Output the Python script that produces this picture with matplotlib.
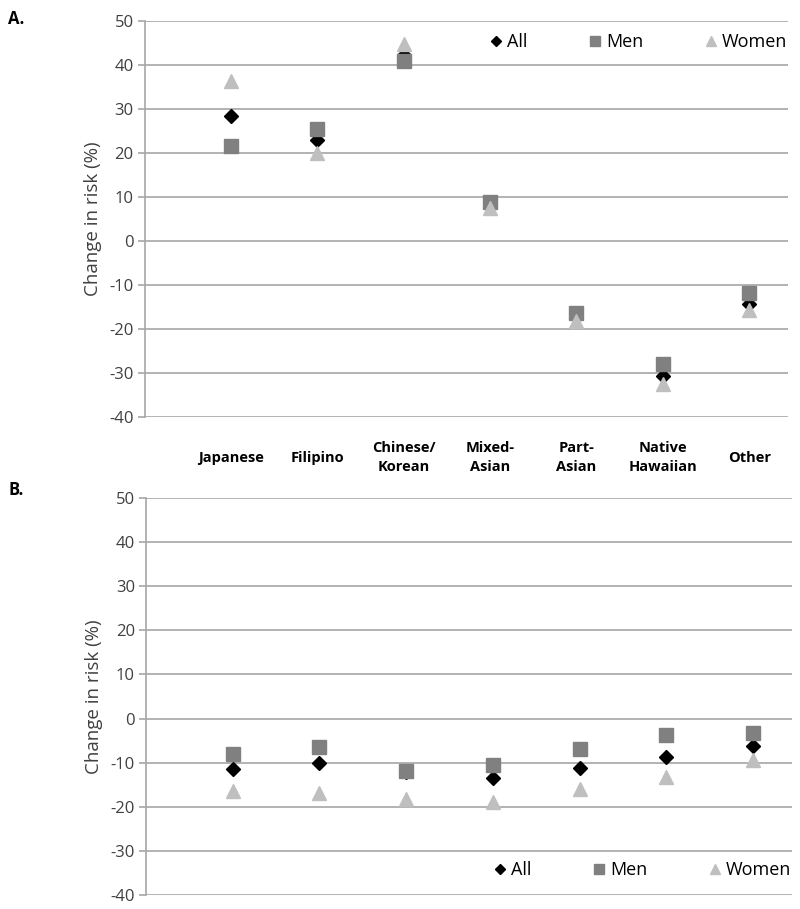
import matplotlib
matplotlib.use("Agg")
import matplotlib.pyplot as plt
import numpy as np

# Categories (x axis, shared)
categories = ["Japanese", "Filipino", "Chinese/\nKorean", "Mixed-\nAsian",
              "Part-\nAsian", "Native\nHawaiian", "Other"]

# Panel A values (change in risk, %)
a_all = [28.3, 22.9, 42.3, 8.3, -17.0, -30.6, -14.3]
a_men = [21.6, 25.4, 40.8, 8.9, -16.4, -28.0, -11.9]
a_women = [36.4, 19.9, 44.8, 7.6, -18.2, -32.6, -15.6]

# Panel B values
b_all = [-11.4, -10.1, -12.0, -13.5, -11.1, -8.8, -6.3]
b_men = [-8.0, -6.4, -11.8, -10.6, -7.0, -3.8, -3.3]
b_women = [-16.5, -16.9, -18.2, -18.9, -16.0, -13.3, -9.3]

yticks = list(range(-40, 51, 10))

plt.rcParams['font.family'] = ['Open Sans', 'DejaVu Sans']

fig = plt.figure(figsize=(8, 9.09), dpi=100)
ax_a = fig.add_axes([0.181, 0.5413, 0.804, 0.4356])
ax_b = fig.add_axes([0.1825, 0.0154, 0.8075, 0.4367])

grid_col = '#a6a6a6'
text_col = '#404040'


def style_panel(ax, s_all, s_men, s_women, legend_y):
    x = np.arange(1, len(categories) + 1)
    ax.plot(x, s_all, linestyle='none', marker='D', color='black',
            markersize=6.8, label='All', zorder=3)
    ax.plot(x, s_men, linestyle='none', marker='s', color='#808080',
            markersize=9.6, label='Men', zorder=4)
    ax.plot(x, s_women, linestyle='none', marker='^', color='#bfbfbf',
            markersize=9.8, label='Women', zorder=5)

    ax.set_xlim(0, 7.45)
    ax.set_ylim(-40, 50)
    ax.set_yticks(yticks)
    ax.set_yticklabels([str(t) for t in yticks], fontsize=12, color=text_col)
    ax.yaxis.grid(True, color=grid_col, linewidth=1.2)
    ax.set_axisbelow(True)
    for side in ['top', 'right', 'bottom']:
        ax.spines[side].set_visible(False)
    ax.spines['left'].set_color(grid_col)
    ax.spines['left'].set_linewidth(1.2)
    ax.tick_params(axis='y', length=5, width=1.2, color=grid_col, pad=3)
    ax.set_ylabel('Change in risk (%)', fontsize=13.5, color=text_col, labelpad=5)

    ax.legend(loc='center right', bbox_to_anchor=(1.0, legend_y), ncol=3,
              frameon=False, fontsize=13, handletextpad=0.15,
              columnspacing=3.3, handlelength=0.9, borderaxespad=0.0,
              borderpad=0.05, markerscale=0.8, labelcolor='black')
    return x


x = style_panel(ax_a, a_all, a_men, a_women, 0.947)
ax_a.set_xticks(x)
ax_a.set_xticklabels(categories, fontsize=10.5, fontweight='bold', color='black',
                     va='center', linespacing=1.45)
ax_a.tick_params(axis='x', length=0, pad=29.5)

style_panel(ax_b, b_all, b_men, b_women, 0.063)
ax_b.set_xticks([])

fig.text(0.01, 0.979, 'A.', fontsize=12, fontweight='bold', va='center')
fig.text(0.01, 0.461, 'B.', fontsize=12, fontweight='bold', va='center')

fig.savefig('out.png', dpi=100)
